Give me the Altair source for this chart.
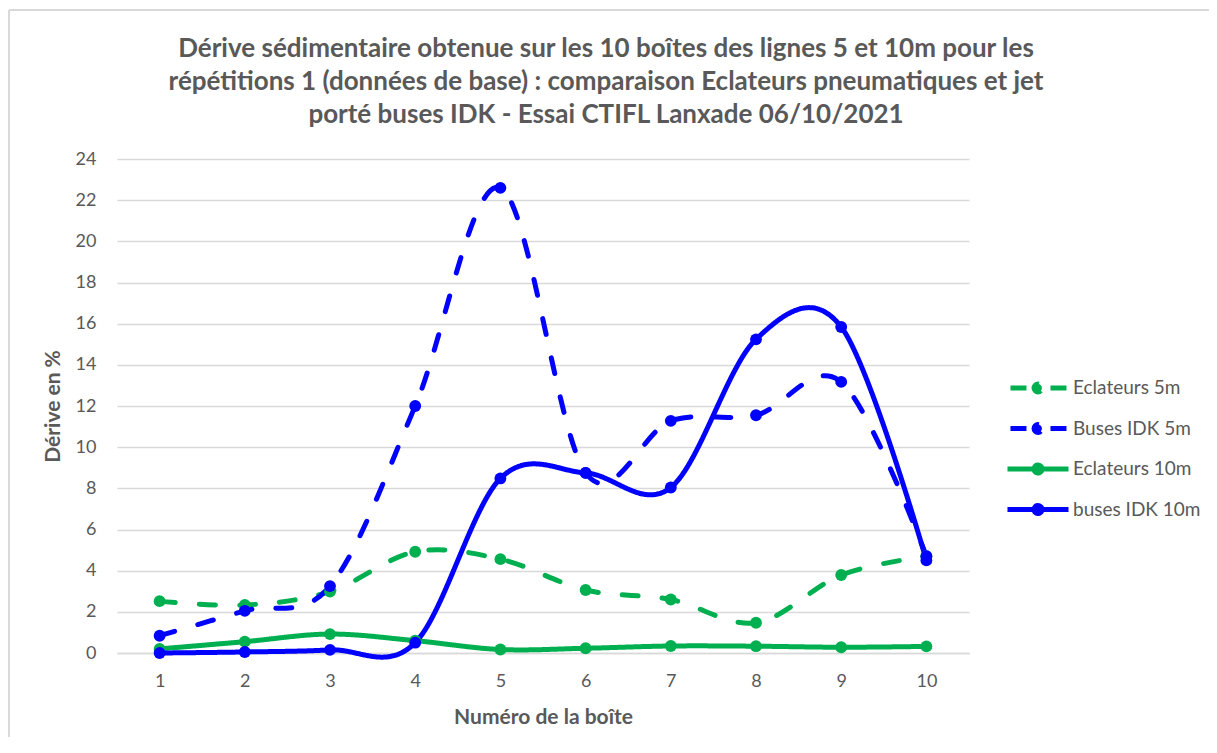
import altair as alt
import pandas as pd

boxes = ["1", "2", "3", "4", "5", "6", "7", "8", "9", "10"]
series_names = ["Eclateurs 5m", "Buses IDK 5m", "Eclateurs 10m", "buses IDK 10m"]
eclateurs_5m = [2.52, 2.33, 2.98, 4.92, 4.56, 3.06, 2.60, 1.47, 3.79, 4.70]
buses_5m = [0.84, 2.05, 3.25, 12.0, 22.6, 8.75, 11.28, 11.55, 13.17, 4.70]
eclateurs_10m = [0.20, 0.55, 0.92, 0.60, 0.17, 0.23, 0.34, 0.33, 0.28, 0.32]
buses_10m = [0.0, 0.05, 0.15, 0.50, 8.48, 8.75, 8.04, 15.24, 15.84, 4.50]
colors = ["#00B050", "#0000FF", "#00B050", "#0000FF"]
dashes = [[16, 24], [16, 24], [1, 0], [1, 0]]
y_ticks = list(range(0, 25, 2))

title_lines = [
    "Dérive sédimentaire obtenue sur les 10 boîtes des lignes 5 et 10m pour les",
    "répétitions 1 (données de base) : comparaison  Eclateurs pneumatiques et jet",
    "porté buses IDK - Essai CTIFL Lanxade 06/10/2021",
]

rows = []
for name, vals in zip(series_names, [eclateurs_5m, buses_5m, eclateurs_10m, buses_10m]):
    for b, v in zip(boxes, vals):
        rows.append({"box": b, "value": v, "series": name})
df = pd.DataFrame(rows)

FONT = "Lato"
GREY = "#595959"

legend_path = "M-3,0L3,0M0.39,0A0.39,0.39,0,1,1,-0.39,0A0.39,0.39,0,1,1,0.39,0Z"

x_enc = alt.X("box:O", sort=boxes, title="Numéro de la boîte",
              axis=alt.Axis(labelAngle=0, ticks=False, domainColor="#d9d9d9", domainWidth=1.5,
                            labelPadding=19, titlePadding=16, grid=False,
                            labelFont=FONT, labelFontSize=18, labelColor=GREY,
                            titleFont=FONT, titleFontSize=21, titleFontWeight="bold",
                            titleColor=GREY))
y_enc = alt.Y("value:Q", title="Dérive en %",
              scale=alt.Scale(domain=[0, 24], nice=False, zero=True),
              axis=alt.Axis(values=y_ticks, ticks=False, domain=False, gridColor="#d9d9d9",
                            gridWidth=1.5, labelPadding=21, titlePadding=12,
                            labelFont=FONT, labelFontSize=18, labelColor=GREY,
                            titleFont=FONT, titleFontSize=21, titleFontWeight="bold",
                            titleColor=GREY))

leg = alt.Legend(title=None, orient="none", legendX=908, legendY=216, padding=0,
                 symbolType=legend_path, symbolSize=414, symbolStrokeWidth=5,
                 symbolDashOffset=-3,
                 labelOffset=22, rowPadding=12.5, labelFontSize=19, labelColor=GREY,
                 labelFont=FONT, labelLimit=300)

color_scale = alt.Scale(domain=series_names, range=colors)

lines = alt.Chart(df).mark_line(interpolate="cardinal", strokeWidth=5, strokeCap="round").encode(
    x=x_enc,
    y=y_enc,
    color=alt.Color("series:N", scale=color_scale, legend=leg, sort=series_names),
    strokeDash=alt.StrokeDash("series:N", scale=alt.Scale(domain=series_names, range=dashes),
                              legend=leg, sort=series_names),
    detail="series:N",
)

points = alt.Chart(df).mark_point(filled=True, size=140, opacity=1).encode(
    x=x_enc,
    y=y_enc,
    fill=alt.Fill("series:N", scale=color_scale, legend=leg, sort=series_names),
)

frame_df = pd.DataFrame({"f": [0]})
frame_left = alt.Chart(frame_df).mark_rule(stroke="#d9d9d9", strokeWidth=2).encode(
    x=alt.value(-108), y=alt.value(-149), y2=alt.value(586)
)
frame_top = alt.Chart(frame_df).mark_rule(stroke="#d9d9d9", strokeWidth=2).encode(
    x=alt.value(-108), x2=alt.value(1092), y=alt.value(-149)
)

chart = alt.layer(frame_left, frame_top, lines, points).properties(
    width=852,
    height=494,
    background="white",
    autosize=alt.AutoSizeParams(type="none"),
    padding={"left": 109, "top": 151, "right": 240, "bottom": 84},
    title=alt.TitleParams(text=title_lines, fontSize=26, fontWeight="bold", color=GREY,
                          font=FONT, anchor="middle", frame="group", dx=63, offset=-119,
                          lineHeight=33),
).configure_view(stroke=None)

chart.save("out.html", embed_options={"renderer": "svg", "actions": False})
